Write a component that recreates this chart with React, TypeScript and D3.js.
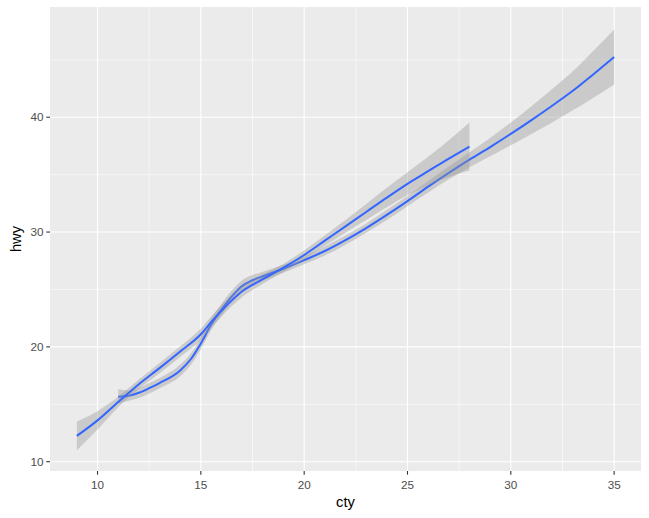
import { useRef, useEffect } from "react";
import * as d3 from "d3";

// loess fits of hwy ~ cty, one per group
const cty2008 = [9, 10, 11, 12, 13, 14, 15, 15.5, 16, 16.5, 17, 17.5, 18, 19, 20, 21, 22, 23, 24, 25, 26, 27, 28];
const hwy2008 = [12.25, 13.6, 15.2, 16.75, 18.15, 19.6, 21.1, 22.15, 23.15, 24.05, 24.85, 25.4, 25.9, 26.9, 28.0, 29.25, 30.5, 31.75, 33.0, 34.2, 35.3, 36.4, 37.45];
const low2008 = [11.0, 12.8, 14.75, 16.35, 17.7, 19.15, 20.6, 21.65, 22.65, 23.55, 24.35, 24.95, 25.5, 26.55, 27.6, 28.8, 29.95, 31.05, 32.15, 33.2, 34.05, 34.8, 35.35];
const high2008 = [13.5, 14.4, 15.65, 17.15, 18.6, 20.05, 21.6, 22.65, 23.65, 24.55, 25.35, 25.85, 26.3, 27.25, 28.4, 29.7, 31.05, 32.45, 33.85, 35.2, 36.55, 38.0, 39.55];

const cty1999 = [11, 11.5, 12, 12.5, 13, 14, 14.5, 15, 15.5, 16, 16.5, 17, 17.5, 18, 19, 20, 21, 22, 23, 24, 25, 26, 27, 28, 29, 30, 31, 32, 33, 34, 35];
const hwy1999 = [15.65, 15.75, 16.0, 16.4, 16.85, 17.95, 18.9, 20.3, 21.95, 23.25, 24.4, 25.3, 25.8, 26.15, 26.8, 27.55, 28.35, 29.3, 30.35, 31.5, 32.7, 33.95, 35.15, 36.3, 37.4, 38.55, 39.75, 41.0, 42.3, 43.75, 45.25];
const low1999 = [15.05, 15.3, 15.55, 15.95, 16.4, 17.45, 18.4, 19.8, 21.45, 22.75, 23.9, 24.8, 25.35, 25.75, 26.45, 27.2, 27.95, 28.9, 29.95, 31.05, 32.25, 33.45, 34.6, 35.65, 36.6, 37.55, 38.55, 39.55, 40.6, 41.7, 42.85];
const high1999 = [16.3, 16.2, 16.45, 16.85, 17.3, 18.45, 19.4, 20.8, 22.45, 23.75, 24.9, 25.8, 26.25, 26.55, 27.15, 27.9, 28.75, 29.7, 30.75, 31.95, 33.15, 34.45, 35.7, 36.95, 38.2, 39.55, 40.95, 42.45, 44.0, 45.8, 47.65];

const xTicks = [10, 15, 20, 25, 30, 35];
const yTicks = [10, 20, 30, 40];

const width = 649;
const height = 518;
const font = "'Liberation Sans', Arial, sans-serif";

const App = () => {
  const ref = useRef(null);

  useEffect(() => {
    document.body.style.margin = "0";
    if (!ref.current) return;
    const svg = d3.select(ref.current);
    svg.selectAll("*").remove();

    const left = 50, right = 641, top = 7, bottom = 471;
    const x = d3.scaleLinear().domain([7.7, 36.3]).range([left, right]);
    const y = d3.scaleLinear().domain([9.19, 49.6]).range([bottom, top]);

    svg.append("rect").attr("width", width).attr("height", height).attr("fill", "white");

    svg.append("defs").append("clipPath").attr("id", "panel")
      .append("rect").attr("x", left).attr("y", top)
      .attr("width", right - left).attr("height", bottom - top);

    svg.append("rect")
      .attr("x", left).attr("y", top)
      .attr("width", right - left).attr("height", bottom - top)
      .attr("fill", "#EBEBEB");

    const grid = svg.append("g");
    // minor grid halfway between the major breaks
    const xMinor = xTicks.slice(1).map((t, i) => (t + xTicks[i]) / 2);
    const yMinor = yTicks.slice(1).map((t, i) => (t + yTicks[i]) / 2).concat([45]);
    xMinor.forEach((t) => grid.append("line")
      .attr("x1", x(t)).attr("x2", x(t)).attr("y1", top).attr("y2", bottom)
      .attr("stroke", "white").attr("stroke-width", 0.55));
    yMinor.forEach((t) => grid.append("line")
      .attr("x1", left).attr("x2", right).attr("y1", y(t)).attr("y2", y(t))
      .attr("stroke", "white").attr("stroke-width", 0.55));
    xTicks.forEach((t) => grid.append("line")
      .attr("x1", x(t)).attr("x2", x(t)).attr("y1", top).attr("y2", bottom)
      .attr("stroke", "white").attr("stroke-width", 1.1));
    yTicks.forEach((t) => grid.append("line")
      .attr("x1", left).attr("x2", right).attr("y1", y(t)).attr("y2", y(t))
      .attr("stroke", "white").attr("stroke-width", 1.1));

    const groups = [
      { cty: cty1999, hwy: hwy1999, low: low1999, high: high1999 },
      { cty: cty2008, hwy: hwy2008, low: low2008, high: high2008 },
    ];

    const plot = svg.append("g").attr("clip-path", "url(#panel)");
    groups.forEach((g) => {
      const idx = d3.range(g.cty.length);
      const area = d3.area<number>()
        .x((i) => x(g.cty[i]))
        .y0((i) => y(g.low[i]))
        .y1((i) => y(g.high[i]))
        .curve(d3.curveMonotoneX);
      const line = d3.line<number>()
        .x((i) => x(g.cty[i]))
        .y((i) => y(g.hwy[i]))
        .curve(d3.curveMonotoneX);
      plot.append("path").attr("d", area(idx)).attr("fill", "#999999").attr("fill-opacity", 0.4);
      plot.append("path").attr("d", line(idx)).attr("fill", "none")
        .attr("stroke", "#3366FF").attr("stroke-width", 2);
    });

    // axes
    const xAxis = svg.append("g");
    xTicks.forEach((t) => {
      xAxis.append("line").attr("x1", x(t)).attr("x2", x(t))
        .attr("y1", bottom).attr("y2", bottom + 3.7)
        .attr("stroke", "#333333").attr("stroke-width", 1.1);
      xAxis.append("text").attr("x", x(t)).attr("y", bottom + 18)
        .attr("text-anchor", "middle").attr("fill", "#4D4D4D")
        .style("font-family", font).style("font-size", "11.7px").text(t);
    });
    const yAxis = svg.append("g");
    yTicks.forEach((t) => {
      yAxis.append("line").attr("x1", left - 3.7).attr("x2", left)
        .attr("y1", y(t)).attr("y2", y(t))
        .attr("stroke", "#333333").attr("stroke-width", 1.1);
      yAxis.append("text").attr("x", left - 6.5).attr("y", y(t)).attr("dy", "0.35em")
        .attr("text-anchor", "end").attr("fill", "#4D4D4D")
        .style("font-family", font).style("font-size", "11.7px").text(t);
    });

    svg.append("text").attr("x", (left + right) / 2).attr("y", 507)
      .attr("text-anchor", "middle").attr("fill", "black")
      .style("font-family", font).style("font-size", "14.7px").text("cty");
    svg.append("text")
      .attr("transform", `translate(21, ${(top + bottom) / 2}) rotate(-90)`)
      .attr("text-anchor", "middle").attr("fill", "black")
      .style("font-family", font).style("font-size", "14.7px").text("hwy");
  }, []);

  return (
    <svg
      ref={ref}
      width={width}
      height={height}
      style={{ display: "block", position: "absolute", left: 0, top: 0 }}
    />
  );
};

export default App;
